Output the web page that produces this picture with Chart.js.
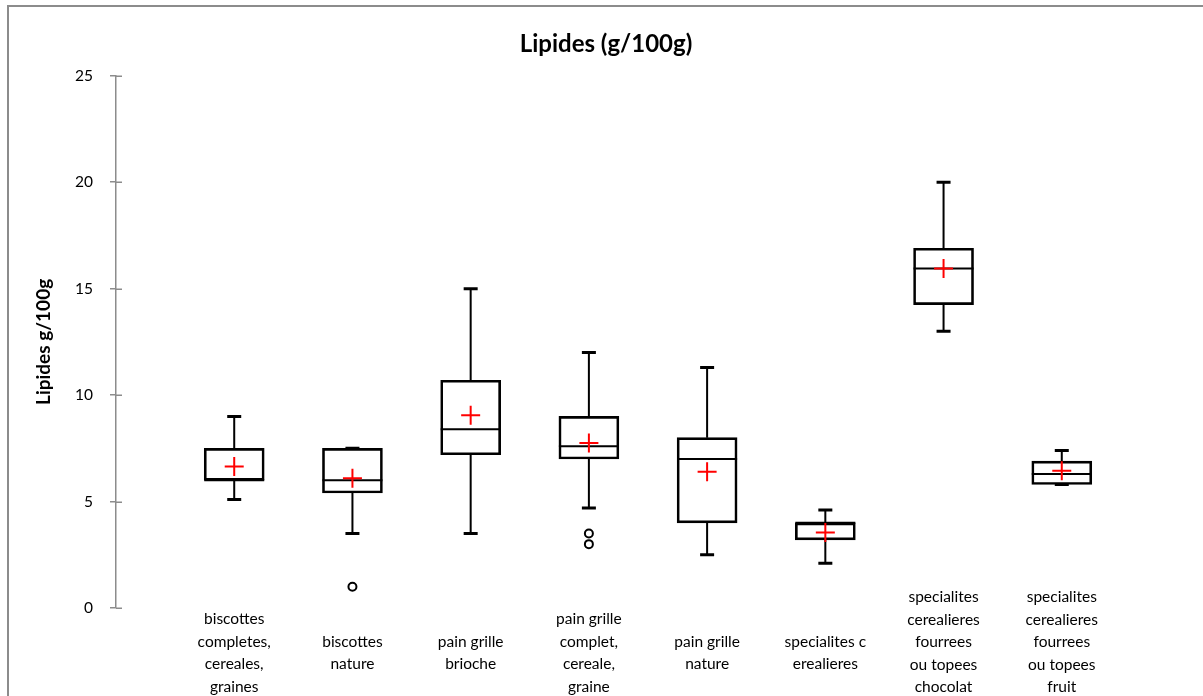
<!DOCTYPE html>
<html>
<head>
<meta charset="utf-8">
<script src="https://cdn.jsdelivr.net/npm/chart.js@4.4.1/dist/chart.umd.min.js"></script>
<style>
    html, body { margin: 0; padding: 0; background: #fff; overflow: hidden; }
    #wrap { position: relative; width: 1203px; height: 696px; }
    #frame { position: absolute; left: 7px; top: 5px; width: 1300px; height: 800px; border: 2px solid #8c8c8c; pointer-events: none; }
</style>
</head>
<body>
<div id="wrap">
    <canvas id="chart" width="1203" height="696"></canvas>
    <div id="frame"></div>
</div>
<script>
const categories = [
    ['biscottes', 'completes,', 'cereales,', 'graines'],
    ['biscottes', 'nature'],
    ['pain grille', 'brioche'],
    ['pain grille', 'complet,', 'cereale,', 'graine'],
    ['pain grille', 'nature'],
    ['specialites c', 'erealieres'],
    ['specialites', 'cerealieres', 'fourrees', 'ou topees', 'chocolat'],
    ['specialites', 'cerealieres', 'fourrees', 'ou topees', 'fruit']
];
const whiskerLow  = [5.1, 3.5, 3.5, 4.7, 2.5, 2.1, 13.0, 5.8];
const q1          = [6.0, 5.4, 7.2, 7.0, 4.0, 3.2, 14.25, 5.8];
const medians     = [6.0, 6.0, 8.4, 7.6, 7.0, 4.0, 15.95, 6.3];
const q3          = [7.5, 7.5, 10.7, 9.0, 8.0, 4.0, 16.9, 6.9];
const whiskerHigh = [9.0, 7.5, 15.0, 12.0, 11.3, 4.6, 20.0, 7.4];
const means       = [6.65, 6.1, 9.05, 7.75, 6.4, 3.55, 15.95, 6.45];
const outlierCat  = [2, 4, 4];
const outlierVal  = [1.0, 3.5, 3.0];
const yMin = 0, yMax = 25, yStep = 5;

const FONT = 'Lato, "Open Sans", sans-serif';
const AXIS_GREY = '#8c8c8c';
const MAX_LINES = 4;   // taller labels are pushed up, like Excel does near the bottom edge

// whiskers, caps and medians, drawn under the boxes
const boxLines = {
    id: 'boxLines',
    beforeDatasetsDraw(chart) {
        const ctx = chart.ctx;
        const x = chart.scales.x, y = chart.scales.y;
        ctx.save();
        ctx.strokeStyle = '#000';
        for (let i = 0; i < categories.length; i++) {
            const cx = x.getPixelForValue(i + 1);
            ctx.lineWidth = 2;
            ctx.beginPath();
            ctx.moveTo(cx, y.getPixelForValue(q3[i]));
            ctx.lineTo(cx, y.getPixelForValue(whiskerHigh[i]));
            ctx.moveTo(cx, y.getPixelForValue(q1[i]));
            ctx.lineTo(cx, y.getPixelForValue(whiskerLow[i]));
            ctx.moveTo(cx - 30, y.getPixelForValue(medians[i]));
            ctx.lineTo(cx + 30, y.getPixelForValue(medians[i]));
            ctx.stroke();
            ctx.lineWidth = 3;
            ctx.beginPath();
            ctx.moveTo(cx - 7, y.getPixelForValue(whiskerHigh[i]));
            ctx.lineTo(cx + 7, y.getPixelForValue(whiskerHigh[i]));
            ctx.moveTo(cx - 7, y.getPixelForValue(whiskerLow[i]));
            ctx.lineTo(cx + 7, y.getPixelForValue(whiskerLow[i]));
            ctx.stroke();
        }
        ctx.restore();
    },
    afterDraw(chart) {
        // inner half of the cross ticks on the y axis
        const ctx = chart.ctx;
        const y = chart.scales.y;
        ctx.save();
        ctx.strokeStyle = AXIS_GREY;
        ctx.lineWidth = 1.5;
        ctx.beginPath();
        for (let v = yMin; v <= yMax; v += yStep) {
            const py = Math.round(y.getPixelForValue(v)) + 0.25;
            ctx.moveTo(y.right, py);
            ctx.lineTo(y.right + 6, py);
        }
        ctx.stroke();
        ctx.restore();
    }
};

function categoryAxis(height, padding, weight, keep) {
    return {
        type: 'linear',
        position: 'bottom',
        weight: weight,
        offset: false,
        min: 0,
        max: 9,
        grid: { display: false },
        border: { display: false },
        afterFit(scale) {
            scale.height = height;
            scale._computeLabelArea = () => undefined;
        },
        ticks: {
            stepSize: 1,
            autoSkip: false,
            maxRotation: 0,
            minRotation: 0,
            crossAlign: 'center',
            padding: padding,
            color: '#000',
            font: { family: FONT, size: 15.5, lineHeight: '22.5px' },
            callback: (v) => {
                const lines = categories[v - 1];
                return (lines && keep(lines)) ? lines : '';
            }
        }
    };
}

new Chart(document.getElementById('chart'), {
    data: {
        datasets: [
            {
                type: 'scatter',
                label: 'Moyenne',
                data: means.map((m, i) => ({x: i + 1, y: m})),
                pointStyle: 'cross',
                pointRadius: 9.5,
                pointBorderWidth: 2,
                borderColor: '#ff0000',
                order: 0
            },
            {
                type: 'scatter',
                label: 'Valeurs extremes',
                data: outlierVal.map((v, i) => ({x: outlierCat[i], y: v})),
                pointStyle: 'circle',
                pointRadius: 4,
                pointBorderWidth: 2,
                borderColor: '#000',
                backgroundColor: '#fff',
                order: 1
            },
            {
                type: 'bar',
                label: 'Boites',
                data: q1.map((v, i) => ({x: i + 1, y: [v, q3[i]]})),
                barThickness: 60,
                borderWidth: 2,
                borderSkipped: false,
                borderColor: '#000',
                backgroundColor: 'rgba(255,255,255,0)',
                order: 2
            }
        ]
    },
    options: {
        responsive: false,
        animation: false,
        events: [],
        layout: { padding: { left: 32, right: 23, top: 0, bottom: 0 } },
        plugins: {
            legend: { display: false },
            tooltip: { enabled: false },
            title: {
                display: true,
                text: 'Lipides (g/100g)',
                color: '#000',
                font: { family: FONT, size: 24, weight: 'bold' },
                padding: { top: 30, bottom: 17 }
            }
        },
        scales: {
            x: categoryAxis(88, 3, 0, (lines) => lines.length <= MAX_LINES),
            x2: categoryAxis(0, -107, 1, (lines) => lines.length > MAX_LINES),
            y: {
                min: yMin,
                max: yMax,
                afterFit(scale) { scale.width = 84; },
                grid: { drawOnChartArea: false, tickLength: 6, color: AXIS_GREY, lineWidth: 1.5 },
                border: { color: AXIS_GREY, width: 1.5 },
                ticks: {
                    stepSize: yStep,
                    padding: 17,
                    color: '#000',
                    font: { family: FONT, size: 15.5 }
                },
                title: {
                    display: true,
                    text: 'Lipides g/100g',
                    color: '#000',
                    font: { family: FONT, size: 19, weight: 'bold' },
                    padding: { top: 0, bottom: 0 }
                }
            }
        }
    },
    plugins: [boxLines]
});
</script>
</body>
</html>
